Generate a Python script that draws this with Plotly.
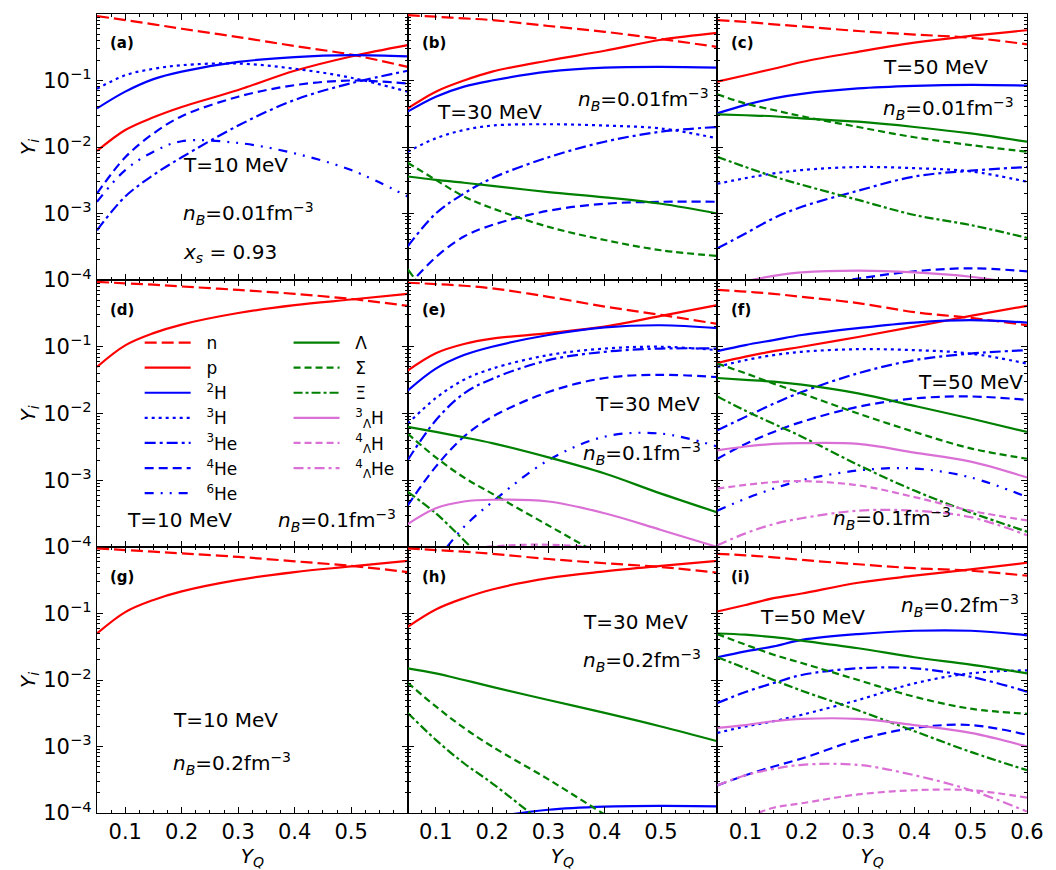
import numpy as np
import plotly.graph_objects as go

YQ = [0.05, 0.1, 0.15, 0.2, 0.3, 0.4, 0.5, 0.6]

# ---- panel (a): T=10 MeV, nB=0.01
panel_a = {
    "n":   [0.93, 0.81, 0.70, 0.60, 0.45, 0.33, 0.245, 0.16],
    "p":   [0.0087, 0.018, 0.028, 0.040, 0.072, 0.14, 0.23, 0.34],
    "2H":  [0.038, 0.068, 0.105, 0.136, 0.19, 0.225, 0.24, 0.23],
    "3H":  [0.075, 0.12, 0.15, 0.17, 0.18, 0.15, 0.11, 0.068],
    "3He": [5.6e-4, 1.8e-3, 3.8e-3, 7e-3, 0.021, 0.051, 0.091, 0.14],
    "4He": [2e-3, 7e-3, 0.016, 0.029, 0.057, 0.085, 0.1, 0.09],
    "6He": [1.5e-3, 4.5e-3, 8.5e-3, 0.0122, 0.0115, 8e-3, 4.5e-3, 1.8e-3],
}
# ---- panel (b): T=30 MeV, nB=0.01
panel_b = {
    "n":   [0.96, 0.91, 0.86, 0.81, 0.66, 0.54, 0.42, 0.32],
    "p":   [0.038, 0.068, 0.10, 0.136, 0.20, 0.28, 0.41, 0.52],
    "2H":  [0.034, 0.057, 0.081, 0.10, 0.136, 0.156, 0.16, 0.156],
    "3H":  [8.5e-3, 0.0135, 0.018, 0.021, 0.022, 0.021, 0.019, 0.0135],
    "3He": [3.2e-4, 1e-3, 2e-3, 3.4e-3, 7e-3, 0.012, 0.017, 0.020],
    "4He": [8e-5, 2.2e-4, 4.5e-4, 6.7e-4, 1.1e-3, 1.4e-3, 1.5e-3, 1.5e-3],
    "L":   [3.6e-3, 3.2e-3, 2.9e-3, 2.6e-3, 2.1e-3, 1.75e-3, 1.4e-3, 1e-3],
    "S":   [5.8e-3, 3.2e-3, 1.8e-3, 1.2e-3, 6.3e-4, 4e-4, 2.8e-4, 2.3e-4],
    "X":   [1.45e-4, 4e-5, 1.2e-5, 4e-6, 5e-7, 6e-8, 8e-9, 1e-9],
}
# ---- panel (c): T=50 MeV, nB=0.01
panel_c = {
    "n":   [0.81, 0.76, 0.70, 0.65, 0.555, 0.49, 0.44, 0.35],
    "p":   [0.096, 0.12, 0.15, 0.19, 0.27, 0.37, 0.47, 0.57],
    "2H":  [0.032, 0.043, 0.054, 0.063, 0.076, 0.083, 0.086, 0.084],
    "3H":  [2.8e-3, 3.4e-3, 4e-3, 4.5e-3, 5e-3, 4.8e-3, 4.3e-3, 3e-3],
    "3He": [3e-4, 5e-4, 8.5e-4, 1.26e-3, 2.2e-3, 3.6e-3, 4.4e-3, 5e-3],
    "4He": [3e-5, 4.5e-5, 6e-5, 7.5e-5, 1.05e-4, 1.35e-4, 1.5e-4, 1.35e-4],
    "L":   [0.031, 0.030, 0.029, 0.027, 0.024, 0.020, 0.016, 0.012],
    "S":   [0.062, 0.045, 0.036, 0.029, 0.020, 0.014, 0.0107, 8.5e-3],
    "X":   [7.1e-3, 5e-3, 3.6e-3, 2.7e-3, 1.6e-3, 9.5e-4, 6.7e-4, 4.3e-4],
    "3LH": [7e-5, 9.5e-5, 1.15e-4, 1.3e-4, 1.38e-4, 1.3e-4, 1.12e-4, 8.5e-5],
}
# ---- panel (d): T=10 MeV, nB=0.1
panel_d = {
    "n":   [0.94, 0.89, 0.85, 0.80, 0.71, 0.62, 0.52, 0.41],
    "p":   [0.05, 0.105, 0.16, 0.215, 0.32, 0.42, 0.51, 0.62],
}
# ---- panel (e): T=30 MeV, nB=0.1
panel_e = {
    "n":   [0.91, 0.87, 0.82, 0.75, 0.56, 0.40, 0.30, 0.22],
    "p":   [0.044, 0.080, 0.11, 0.132, 0.16, 0.20, 0.29, 0.42],
    "2H":  [0.022, 0.047, 0.075, 0.1, 0.15, 0.195, 0.21, 0.19],
    "3H":  [7e-3, 0.017, 0.032, 0.047, 0.075, 0.094, 0.1, 0.089],
    "3He": [2e-3, 7.9e-3, 0.02, 0.033, 0.063, 0.084, 0.094, 0.094],
    "4He": [4.2e-4, 1.6e-3, 4.5e-3, 8.9e-3, 0.021, 0.034, 0.038, 0.035],
    "6He": [1.5e-5, 6e-5, 2e-4, 4.7e-4, 2e-3, 4.5e-3, 5e-3, 3.2e-3],
    "L":   [6.3e-3, 5.3e-3, 4.4e-3, 3.6e-3, 2.2e-3, 1.26e-3, 6.3e-4, 3.3e-4],
    "S":   [5e-3, 2.2e-3, 1.1e-3, 6.3e-4, 2.1e-4, 7e-5, 2.3e-5, 8e-6],
    "X":   [6.7e-4, 3.2e-4, 1.26e-4, 5e-5, 1e-5, 2e-6, 4e-7, 8e-8],
    "3LH": [2.2e-4, 3.8e-4, 4.8e-4, 5.1e-4, 4.8e-4, 3.2e-4, 1.8e-4, 1e-4],
    "4LH": [3e-5, 6e-5, 8.8e-5, 1.02e-4, 1.08e-4, 9.5e-5, 7e-5, 4.5e-5],
}
# ---- panel (f): T=50 MeV, nB=0.1
panel_f = {
    "n":    [0.71, 0.67, 0.62, 0.56, 0.45, 0.33, 0.27, 0.21],
    "p":    [0.057, 0.071, 0.086, 0.1, 0.14, 0.2, 0.29, 0.41],
    "2H":   [0.086, 0.106, 0.126, 0.15, 0.19, 0.23, 0.25, 0.23],
    "3H":   [0.05, 0.063, 0.075, 0.084, 0.092, 0.089, 0.079, 0.056],
    "3He":  [5.6e-3, 8.9e-3, 0.014, 0.021, 0.04, 0.063, 0.079, 0.089],
    "4He":  [2.1e-3, 3.5e-3, 5.3e-3, 7.5e-3, 0.0126, 0.0168, 0.018, 0.016],
    "6He":  [3.5e-4, 5.3e-4, 7.5e-4, 1e-3, 1.4e-3, 1.5e-3, 1.1e-3, 5.6e-4],
    "L":    [0.034, 0.032, 0.030, 0.027, 0.020, 0.013, 8.4e-3, 5.3e-3],
    "S":    [0.056, 0.04, 0.028, 0.02, 0.01, 5.3e-3, 3e-3, 2.1e-3],
    "X":    [0.018, 0.011, 7e-3, 4.5e-3, 1.7e-3, 7e-4, 3.3e-4, 1.7e-4],
    "3LH":  [2.8e-3, 3.2e-3, 3.5e-3, 3.6e-3, 3.5e-3, 2.6e-3, 1.9e-3, 1.1e-3],
    "4LH":  [7.5e-4, 8.5e-4, 9.4e-4, 9.7e-4, 8.4e-4, 5.6e-4, 3.5e-4, 2.5e-4],
    "4LHe": [1.06e-4, 1.6e-4, 2.2e-4, 2.7e-4, 3.5e-4, 3.5e-4, 2.8e-4, 1.5e-4],
}
# ---- panel (g): T=10 MeV, nB=0.2
panel_g = {
    "n":   [0.95, 0.90, 0.85, 0.80, 0.71, 0.61, 0.52, 0.42],
    "p":   [0.05, 0.105, 0.16, 0.215, 0.32, 0.42, 0.51, 0.62],
}
# ---- panel (h): T=30 MeV, nB=0.2
panel_h = {
    "n":   [0.95, 0.90, 0.85, 0.79, 0.66, 0.57, 0.50, 0.41],
    "p":   [0.063, 0.115, 0.17, 0.23, 0.34, 0.43, 0.52, 0.62],
    "2H":  [2.5e-5, 4.5e-5, 6.5e-5, 8.5e-5, 1.12e-4, 1.25e-4, 1.28e-4, 1.26e-4],
    "L":   [0.015, 0.0126, 0.01, 7.9e-3, 5e-3, 3.2e-3, 2e-3, 1.2e-3],
    "S":   [9.1e-3, 4e-3, 1.9e-3, 1e-3, 3.2e-4, 9.5e-5, 3e-5, 1e-5],
    "X":   [3.2e-3, 1.26e-3, 5.6e-4, 2.8e-4, 6e-5, 1.2e-5, 2e-6, 4e-7],
}
# ---- panel (i): T=50 MeV, nB=0.2
panel_i = {
    "n":    [0.79, 0.75, 0.70, 0.64, 0.55, 0.48, 0.44, 0.37],
    "p":    [0.107, 0.134, 0.17, 0.2, 0.29, 0.37, 0.46, 0.58],
    "2H":   [0.022, 0.027, 0.032, 0.04, 0.049, 0.055, 0.055, 0.047],
    "3H":   [1.6e-3, 2e-3, 2.4e-3, 3e-3, 5e-3, 8.9e-3, 0.0126, 0.014],
    "3He":  [4.5e-3, 6.6e-3, 9e-3, 0.0119, 0.015, 0.015, 0.0112, 6.7e-3],
    "4He":  [2.6e-4, 3.7e-4, 5e-4, 6.6e-4, 1.26e-3, 1.9e-3, 2.1e-3, 1.5e-3],
    "L":    [0.05, 0.048, 0.044, 0.039, 0.03, 0.022, 0.017, 0.0126],
    "S":    [0.049, 0.034, 0.024, 0.018, 0.01, 5.6e-3, 3.7e-3, 3.1e-3],
    "X":    [0.022, 0.015, 0.01, 6.9e-3, 3.5e-3, 1.7e-3, 8.3e-4, 4.4e-4],
    "3LH":  [1.9e-3, 2.1e-3, 2.4e-3, 2.6e-3, 2.6e-3, 2.1e-3, 1.6e-3, 1e-3],
    "4LH":  [6e-5, 8.5e-5, 1.2e-4, 1.4e-4, 1.9e-4, 2.2e-4, 2.2e-4, 1.7e-4],
    "4LHe": [2.6e-4, 3.7e-4, 4.6e-4, 5.3e-4, 5.3e-4, 3.7e-4, 2.2e-4, 1.05e-4],
}

PANELS = [panel_a, panel_b, panel_c, panel_d, panel_e, panel_f, panel_g, panel_h, panel_i]
PANEL_TAGS = ["(a)", "(b)", "(c)", "(d)", "(e)", "(f)", "(g)", "(h)", "(i)"]

SPECIES = ["n", "p", "2H", "3H", "3He", "4He", "6He", "L", "S", "X", "3LH", "4LH", "4LHe"]
NB2 = "\u00a0\u00a0"
LABELS = {
    "n": "n", "p": "p", "2H": "<sup>2</sup>H", "3H": "<sup>3</sup>H",
    "3He": "<sup>3</sup>He", "4He": "<sup>4</sup>He", "6He": "<sup>6</sup>He",
    "L": "Λ", "S": "Σ", "X": "Ξ",
    "3LH": "<sup>3</sup><sub>Λ</sub>H", "4LH": "<sup>4</sup><sub>Λ</sub>H",
    "4LHe": "<sup>4</sup><sub>Λ</sub>He",
}
RED, BLUE, GREEN, VIOLET = "#ff0000", "#0000ff", "#008000", "#da70d6"
STYLE = {
    "n": (RED, "12px,5px"), "p": (RED, "solid"),
    "2H": (BLUE, "solid"), "3H": (BLUE, "3px,4px"),
    "3He": (BLUE, "11px,4px,3px,4px"), "4He": (BLUE, "9px,5px"),
    "6He": (BLUE, "9px,7px,2px,7px,2px,7px"),
    "L": (GREEN, "solid"), "S": (GREEN, "7px,4px"), "X": (GREEN, "9px,3px,3px,3px"),
    "3LH": (VIOLET, "solid"), "4LH": (VIOLET, "7px,4px"), "4LHe": (VIOLET, "10px,4px,3px,4px"),
}
LEG1 = ["n", "p", "2H", "3H", "3He", "4He", "6He"]

# ---- geometry (pixels)
W, H = 1056, 870
ML, MR, MT, MB = 97, 22, 14, 57
PW, PH = W - ML - MR, H - MT - MB
col_px = [(97, 410), (410, 722), (722, 1034)]
row_px = [(14, 280), (280, 547), (547, 813)]

def xd(a, b):
    return [(a - ML) / PW, (b - ML) / PW]

def yd(top, bot):
    return [(H - MB - bot) / PH, (H - MB - top) / PH]

def px(x):
    return (x - ML) / PW

def py(y):
    return (H - MB - y) / PH

fig = go.Figure()
FONT = "DejaVu Sans"
TICKSIZE = 21

minor_y = [k * 10.0 ** e for e in range(-4, 0) for k in range(2, 10)]
minor_x = list(np.round(np.arange(0.05, 0.6001, 0.025), 4))

for k, panel in enumerate(PANELS):
    r, c = divmod(k, 3)
    sx = "" if k == 0 else str(k + 1)
    xname, yname = "x" + sx, "y" + sx
    for sp in SPECIES:
        if sp not in panel:
            continue
        col, dash = STYLE[sp]
        show = (k == 5)
        fig.add_trace(go.Scatter(
            x=YQ, y=panel[sp], mode="lines", name=NB2 + LABELS[sp],
            line=dict(color=col, dash=dash, width=2.2, shape="spline", smoothing=1.0),
            xaxis=xname, yaxis=yname, showlegend=show,
            legend=("legend" if sp in LEG1 else "legend2"),
            hoverinfo="skip",
        ))
    xt = [0.1, 0.2, 0.3, 0.4, 0.5] + ([0.6] if c == 2 else [])
    xaxis = dict(
        domain=xd(*col_px[c]), anchor=yname, range=[0.05, 0.6],
        showline=True, linecolor="black", linewidth=1.3, mirror="ticks",
        ticks="inside", ticklen=6, tickwidth=1.2, tickcolor="black",
        tickmode="array", tickvals=xt, ticktext=[f"{v:.1f}" for v in xt],
        showticklabels=(r == 2), tickfont=dict(family=FONT, size=TICKSIZE, color="black"),
        minor=dict(ticks="inside", ticklen=3, tickwidth=1, tickcolor="black",
                   tickmode="array", tickvals=minor_x),
        showgrid=False, zeroline=False,
    )
    if r == 2:
        xaxis["title"] = dict(text="<i>Y</i><sub><i>Q</i></sub>",
                              font=dict(family=FONT, size=20, color="black"), standoff=0)
    ydecs = [0, -1, -2, -3, -4] if r == 0 else [-1, -2, -3, -4]
    yaxis = dict(
        domain=yd(*row_px[r]), anchor=xname, type="log", range=[-4, 0],
        showline=True, linecolor="black", linewidth=1.3, mirror="ticks",
        ticks="inside", ticklen=6, tickwidth=1.2, tickcolor="black",
        tickmode="array", tickvals=[10.0 ** d for d in ydecs],
        ticktext=[f"10<sup>{'−' if d < 0 else ''}{abs(d)}</sup>" for d in ydecs],
        showticklabels=(c == 0), tickfont=dict(family=FONT, size=TICKSIZE, color="black"),
        minor=dict(ticks="inside", ticklen=3, tickwidth=1, tickcolor="black",
                   tickmode="array", tickvals=minor_y),
        showgrid=False, zeroline=False,
    )
    if c == 0:
        yaxis["title"] = dict(text="<i>Y</i><sub><i>i</i></sub>",
                              font=dict(family=FONT, size=20, color="black"), standoff=2)
    fig.layout["xaxis" + sx] = xaxis
    fig.layout["yaxis" + sx] = yaxis

# ---- panel annotations
TAG_POS = [(108, 43), (422, 43), (734, 43), (108, 310), (422, 310), (734, 310),
           (108, 577), (422, 577), (734, 577)]
NB = lambda v: f"<i>n</i><sub><i>B</i></sub>={v}fm<sup>−3</sup>"
TEXTS = [
    ("T=10 MeV", 182, 165), (NB("0.01"), 182, 213), ("<i>x</i><sub><i>s</i></sub> = 0.93", 182, 253),
    ("T=30 MeV", 438, 112), (NB("0.01"), 580, 100),
    ("T=50 MeV", 887, 67), (NB("0.01"), 887, 108),
    ("T=10 MeV", 125, 520), (NB("0.1"), 277, 520),
    ("T=30 MeV", 597, 404), (NB("0.1"), 585, 453),
    ("T=50 MeV", 922, 382), (NB("0.1"), 837, 518),
    ("T=10 MeV", 172, 720), (NB("0.2"), 172, 763),
    ("T=30 MeV", 585, 622), (NB("0.2"), 585, 660),
    ("T=50 MeV", 763, 617), (NB("0.2"), 905, 605),
]
ann = []
for tag, (x0, y0) in zip(PANEL_TAGS, TAG_POS):
    ann.append(dict(text=f"<b>{tag}</b>", x=px(x0), y=py(y0), xref="paper", yref="paper",
                    xanchor="left", yanchor="middle", showarrow=False,
                    font=dict(family=FONT, size=15, color="black")))
for t, x0, y0 in TEXTS:
    ann.append(dict(text=t, x=px(x0), y=py(y0), xref="paper", yref="paper",
                    xanchor="left", yanchor="middle", showarrow=False,
                    font=dict(family=FONT, size=20, color="black")))

legfont = dict(family=FONT, size=17, color="black")
fig.update_layout(
    width=W, height=H, margin=dict(l=ML, r=MR, t=MT, b=MB),
    paper_bgcolor="white", plot_bgcolor="white",
    annotations=ann,
    legend=dict(x=px(140), y=py(325), xanchor="left", yanchor="top",
                bgcolor="rgba(0,0,0,0)", font=legfont, itemwidth=46,
                tracegroupgap=0),
    legend2=dict(x=px(290), y=py(325), xanchor="left", yanchor="top",
                 bgcolor="rgba(0,0,0,0)", font=legfont, itemwidth=46,
                 tracegroupgap=0),
)
fig.write_html("out.html")
